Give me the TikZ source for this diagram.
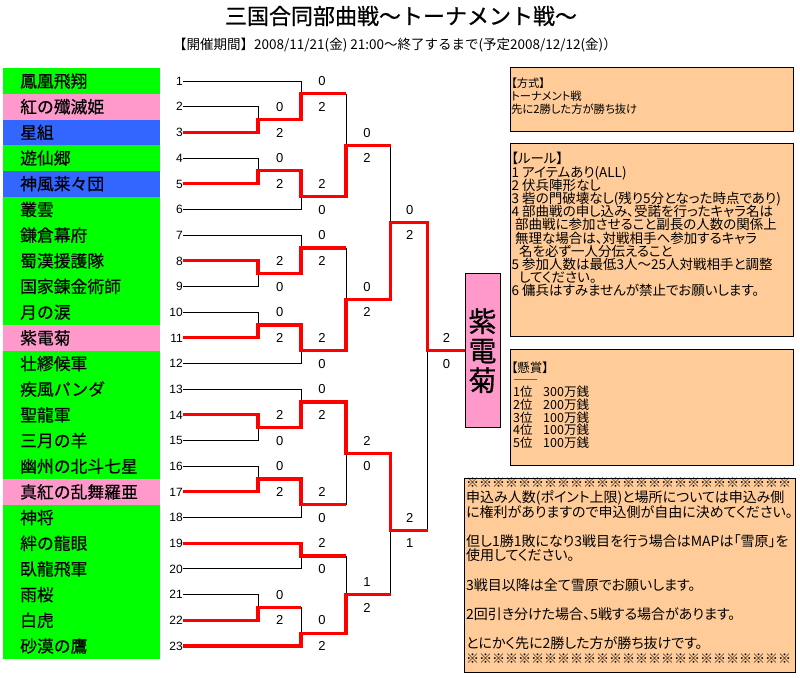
\documentclass[tikz,border=0pt]{standalone}
\usepackage{fontspec}
\setmainfont{Noto Sans CJK JP}
\newfontfamily\jp{Noto Sans CJK JP}
\newfontfamily\jpb[FakeBold=0.6]{Noto Sans CJK JP}
\newfontfamily\jpt[FakeBold=0.35]{Noto Sans CJK JP}
\newfontfamily\jpp[RawFeature=+palt]{Noto Sans CJK JP}
\newfontfamily\lat{Liberation Sans}
\definecolor{tgreen}{HTML}{00FF00}
\definecolor{tpink}{HTML}{FF99CC}
\definecolor{tblue}{HTML}{3366FF}
\definecolor{ttan}{HTML}{FFCC99}
\definecolor{tred}{HTML}{FF0000}
\begin{document}
\begin{tikzpicture}[x=1pt,y=-1pt,
  team/.style={anchor=west,inner sep=0pt,text height=14.8pt,text depth=2pt,font=\jpt\fontsize{16.8}{16.8}\selectfont},
  num/.style={anchor=east,inner sep=0pt,text height=8.6pt,text depth=0pt,font=\lat\fontsize{12}{12}\selectfont},
  score/.style={inner sep=0pt,text height=9.3pt,text depth=0pt,font=\lat\fontsize{13}{13}\selectfont},
  lose/.style={draw=black,line width=0.9pt},
  win/.style={draw=tred,line width=3.2pt},
  panel/.style={fill=ttan,draw=black,line width=0.7pt},
  jtxt/.style={anchor=west,inner sep=0pt,text height=0.88em,text depth=0.12em},
]
\useasboundingbox (0,0) rectangle (800,677);
\fill[white] (0,0) rectangle (800,677);

% title
\node[inner sep=0pt,font=\jpb\fontsize{22}{22}\selectfont] (title) at (401,16) {三国合同部曲戦～トーナメント戦～};
\node[inner sep=0pt,font=\jp\fontsize{13.5}{13.5}\selectfont] (period) at (395,45) {【開催期間】2008/11/21(金) 21:00～終了するまで(予定2008/12/12(金)）};

% grid coordinates
\foreach \k in {1,...,23} { \coordinate (R\k) at (0,{81+(\k-1)*25.68}); }
\foreach \k in {1,...,22} { \coordinate (B\k) at (0,{93.84+(\k-1)*25.68}); }
\coordinate (V1) at (258,0);
\coordinate (V2) at (301,0);
\coordinate (V3) at (346,0);
\coordinate (V4) at (390.5,0);
\coordinate (V5) at (427.5,0);
\coordinate (C1) at (279.7,0);
\coordinate (C2) at (322,0);
\coordinate (C3) at (367,0);
\coordinate (C4) at (409.7,0);
\coordinate (C5) at (446.5,0);
\coordinate (CW) at (482.5,0);

% team list
\foreach \k/\nm/\cl in {1/鳳凰飛翔/tgreen, 2/紅の殲滅姫/tpink, 3/星組/tblue, 4/遊仙郷/tgreen,
  5/神風莱々団/tblue, 6/叢雲/tgreen, 7/鎌倉幕府/tgreen, 8/蜀漢援護隊/tgreen,
  9/国家錬金術師/tgreen, 10/月の涙/tgreen, 11/紫電菊/tpink, 12/壮繆候軍/tgreen,
  13/疾風パンダ/tgreen, 14/聖龍軍/tgreen, 15/三月の羊/tgreen, 16/幽州の北斗七星/tgreen,
  17/真紅の乱舞羅亜/tpink, 18/神将/tgreen, 19/絆の龍眼/tgreen, 20/臥龍飛軍/tgreen,
  21/雨桜/tgreen, 22/白虎/tgreen, 23/砂漠の鷹/tgreen} {
  \fill[\cl] (3,{81+(\k-1)*25.68-12.84}) rectangle (160,{81+(\k-1)*25.68+12.95});
  \node[team] (t\k) at (20,{81+(\k-1)*25.68}) {\nm};
  \node[num] (n\k) at (183,{81+(\k-1)*25.68}) {\k};
}

% champion box
\node[draw=black,line width=0.6pt,fill=tpink,minimum width=35pt,minimum height=154pt,inner sep=0pt,
  align=center,font=\jpb\fontsize{28}{29.5}\selectfont] (champ) at (CW|-B11) {紫\\電\\菊};

% losing paths
\draw[lose] (n1.east) -- (V2|-R1) -- (V2|-B1);
\draw[lose] (n2.east) -- (V1|-R2) -- (V1|-B2);
\draw[lose] (n4.east) -- (V1|-R4) -- (V1|-B4);
\draw[lose] (n6.east) -- (V2|-R6) -- (V2|-B5);
\draw[lose] (V3|-B1) -- (V3|-B3);
\draw[lose] (V4|-B3) -- (V4|-B6);
\draw[lose] (n7.east) -- (V2|-R7) -- (V2|-B7);
\draw[lose] (n9.east) -- (V1|-R9) -- (V1|-B8);
\draw[lose] (n10.east) -- (V1|-R10) -- (V1|-B10);
\draw[lose] (n12.east) -- (V2|-R12) -- (V2|-B11);
\draw[lose] (V3|-B7) -- (V3|-B9);
\draw[lose] (n13.east) -- (V2|-R13) -- (V2|-B13);
\draw[lose] (n15.east) -- (V1|-R15) -- (V1|-B14);
\draw[lose] (n16.east) -- (V1|-R16) -- (V1|-B16);
\draw[lose] (n18.east) -- (V2|-R18) -- (V2|-B17);
\draw[lose] (V3|-B17) -- (V3|-B15);
\draw[lose] (n20.east) -- (V2|-R20) -- (V2|-B19);
\draw[lose] (n21.east) -- (V1|-R21) -- (V1|-B21);
\draw[lose] (V2|-B21) -- (V2|-B22);
\draw[lose] (V3|-B19) -- (V3|-R21);
\draw[lose] (V4|-R21) -- (V4|-B18);
\draw[lose] (V5|-B18) -- (V5|-B11);

% winning paths
\draw[win] (n3.east) -- (V1|-R3) -- (V1|-B2) -- (V2|-B2) -- (V2|-B1) -- (V3|-B1);
\draw[win] (n5.east) -- (V1|-R5) -- (V1|-B4) -- (V2|-B4) -- (V2|-B5) -- (V3|-B5) -- (V3|-B3) -- (V4|-B3);
\draw[win] (n8.east) -- (V1|-R8) -- (V1|-B8) -- (V2|-B8) -- (V2|-B7) -- (V3|-B7);
\draw[win] (n11.east) -- (V1|-R11) -- (V1|-B10) -- (V2|-B10) -- (V2|-B11) -- (V3|-B11) -- (V3|-B9) -- (V4|-B9) -- (V4|-B6) -- (V5|-B6) -- (V5|-B11) -- (champ.west);
\draw[win] (n14.east) -- (V1|-R14) -- (V1|-B14) -- (V2|-B14) -- (V2|-B13) -- (V3|-B13) -- (V3|-B15) -- (V4|-B15) -- (V4|-B18) -- (V5|-B18);
\draw[win] (n17.east) -- (V1|-R17) -- (V1|-B16) -- (V2|-B16) -- (V2|-B17) -- (V3|-B17);
\draw[win] (n19.east) -- (V2|-R19) -- (V2|-B19) -- (V3|-B19);
\draw[win] (n22.east) -- (V1|-R22) -- (V1|-B21) -- (V2|-B21);
\draw[win] (n23.east) -- (V2|-R23) -- (V2|-B22) -- (V3|-B22) -- (V3|-R21) -- (V4|-R21);

% scores
\foreach \c/\r/\t [count=\i] in {C1/R2/0, C1/R3/2, C1/R4/0, C1/R5/2, C1/R8/2, C1/R9/0, C1/R10/0, C1/R11/2,
  C1/R14/2, C1/R15/0, C1/R16/0, C1/R17/2, C1/R21/0, C1/R22/2,
  C2/R1/0, C2/R2/2, C2/R5/2, C2/R6/0, C2/R7/0, C2/R8/2, C2/R11/2, C2/R12/0, C2/R13/0, C2/R14/2,
  C2/R17/2, C2/R18/0, C2/R19/2, C2/R20/0, C2/R22/0, C2/R23/2,
  C3/R3/0, C3/R4/2, C3/R9/0, C3/R10/2, C3/R15/2, C3/R16/0, C3/B20/1, C3/B21/2,
  C4/R6/0, C4/R7/2, C4/R18/2, C4/R19/1, C5/R11/2, C5/R12/0} {
  \node[score] (sc\i) at (\c|-\r) {\t};
}

% right panels
\draw[panel] (510,67.3) rectangle (793.5,131.5);
\draw[panel] (510,143.3) rectangle (793.5,336.7);
\draw[panel] (510,349.3) rectangle (793.5,465);
\draw[panel] (464,478) rectangle (795,672);

\begin{scope}[every node/.style={jtxt,font=\jpp\fontsize{11.3}{11.3}\selectfont}]
\node (fs1) at (511,83.3) {【方式】};
\node (fs2) at (511,96.5) {トーナメント戦};
\node (fs3) at (511,109.6) {先に2勝した方が勝ち抜け};
\end{scope}

\begin{scope}[every node/.style={jtxt,font=\jpp\fontsize{13.5}{13.5}\selectfont}]
\foreach \y/\x/\t [count=\i] in {160/511/【ルール】, 173.2/511.5/1 アイテムあり(ALL), 186.4/511.5/2 伏兵陣形なし,
  199.6/511.5/3 砦の門破壊なし(残り5分となった時点であり), 212.8/511.5/4 部曲戦の申し込み、受諾を行ったキャラ名は,
  226/515/部曲戦に参加させること副長の人数の関係上, 239.2/515/無理な場合は、対戦相手へ参加するキャラ,
  252.4/519/名を必ず一人分伝えること, 265.6/511.5/5 参加人数は最低3人～25人対戦相手と調整,
  278.8/519/してください。, 292/511.5/6 傭兵はすみませんが禁止でお願いします。} {
  \node (ru\i) at (\x,\y) {\t};
}
\end{scope}

\begin{scope}[every node/.style={jtxt,font=\jpp\fontsize{12.5}{12.5}\selectfont}]
\node (kh0) at (511,369) {【懸賞】};
\node (kh1) at (513,380.5) {――};
\foreach \y/\rk/\val in {393/1/300, 405.7/2/200, 418.4/3/100, 431.1/4/100, 443.8/5/100} {
  \node (khr\rk) at (513,\y) {{\rk}位};
  \node (khv\rk) at (543,\y) {{\val}万銭};
}
\end{scope}

\begin{scope}[every node/.style={jtxt,font=\jpp\fontsize{14}{14}\selectfont}]
\node[font=\jp\fontsize{13}{13}\selectfont] (nt0) at (466,484) {※※※※※※※※※※※※※※※※※※※※※※※※※};
\node (nt1) at (466,498.6) {申込み人数(ポイント上限)と場所については申込み側};
\node (nt2) at (466,513.2) {に権利がありますので申込側が自由に決めてください。};
\node (nt3) at (466,542.4) {但し1勝1敗になり3戦目を行う場合はMAPは「雪原」を};
\node (nt4) at (466,557) {使用してください。};
\node (nt5) at (466,586.2) {3戦目以降は全て雪原でお願いします。};
\node (nt6) at (466,615.4) {2回引き分けた場合、5戦する場合があります。};
\node (nt7) at (466,644.6) {とにかく先に2勝した方が勝ち抜けです。};
\node[font=\jp\fontsize{13}{13}\selectfont] (nt8) at (466,659.2) {※※※※※※※※※※※※※※※※※※※※※※※※※};
\end{scope}
\end{tikzpicture}
\end{document}
